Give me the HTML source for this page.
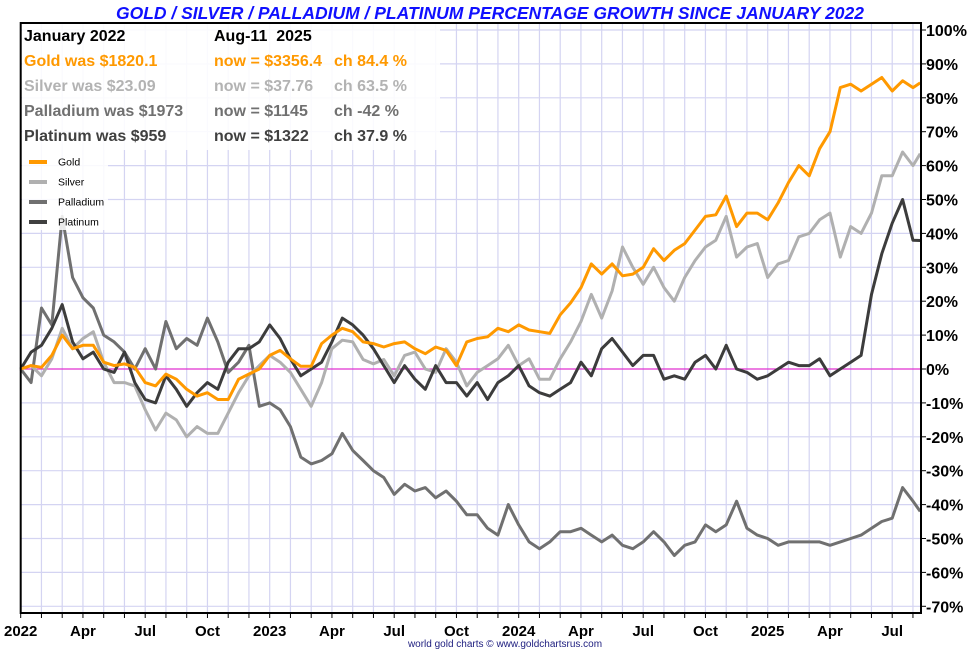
<!DOCTYPE html>
<html><head><meta charset="utf-8"><style>
body{margin:0;background:#fff;}
svg{display:block;font-family:"Liberation Sans",sans-serif;}
</style></head><body>
<svg id="chart" width="980" height="650" xmlns="http://www.w3.org/2000/svg">
<text x="490" y="19" text-anchor="middle" font-size="17.5" font-weight="bold" font-style="italic" fill="#1010ff">GOLD / SILVER / PALLADIUM / PLATINUM PERCENTAGE GROWTH SINCE JANUARY 2022</text>
<g id="grid"></g>
<g id="series"></g>
<g id="axes"></g>
<g>
<rect x="22" y="24" width="418" height="126" fill="#fff" fill-opacity="0.88"/>
<g font-size="16" font-weight="bold">
<text x="24" y="41" fill="#000">January 2022</text>
<text x="214" y="41" fill="#000">Aug-11&#160; 2025</text>
<text x="24" y="66" fill="#ff9900">Gold was $1820.1</text>
<text x="214" y="66" fill="#ff9900">now = $3356.4</text>
<text x="334" y="66" fill="#ff9900">ch 84.4 %</text>
<text x="24" y="91" fill="#b3b3b3">Silver was $23.09</text>
<text x="214" y="91" fill="#b3b3b3">now = $37.76</text>
<text x="334" y="91" fill="#b3b3b3">ch 63.5 %</text>
<text x="24" y="116" fill="#707070">Palladium was $1973</text>
<text x="214" y="116" fill="#707070">now = $1145</text>
<text x="334" y="116" fill="#707070">ch -42 %</text>
<text x="24" y="141" fill="#404040">Platinum was $959</text>
<text x="214" y="141" fill="#404040">now = $1322</text>
<text x="334" y="141" fill="#404040">ch 37.9 %</text>
</g></g>
<g>
<rect x="22" y="150" width="86" height="80" fill="#fff" fill-opacity="0.85"/>
<g font-size="10.5" fill="#000">
<line x1="29" y1="162" x2="47" y2="162" stroke="#ff9900" stroke-width="4"/><text x="58" y="165.5">Gold</text>
<line x1="29" y1="182" x2="47" y2="182" stroke="#b0b0b0" stroke-width="4"/><text x="58" y="185.5">Silver</text>
<line x1="29" y1="202" x2="47" y2="202" stroke="#707070" stroke-width="4"/><text x="58" y="205.5">Palladium</text>
<line x1="29" y1="222" x2="47" y2="222" stroke="#404040" stroke-width="4"/><text x="58" y="225.5">Platinum</text>
</g></g>
<text x="505" y="647" text-anchor="middle" font-size="10" fill="#202080">world gold charts © www.goldchartsrus.com</text>
</svg>
<script>
const gold=[0,1,0.5,4,10,6,7,7,2,1,1.5,0.5,-4,-5,-1.5,-3,-6,-8,-7,-9,-9,-3,-1.5,0,4,5.5,3,0.8,0.8,7.5,10,12,11,8,7.5,6.5,7.5,8,6,4.5,6.5,5.5,1,8,9,9.5,12,11,13,11.5,11,10.5,16,19.5,24,31,28,31,27.5,28,30,35.5,32,35,37,41,45,45.5,51,42,46,46,44,49,55,60,57,65,70,83,84,82,84,86,82,85,83,84.4];
const silver=[0,1,-2,3,12,6,9,11,2,-4,-4,-5,-12,-18,-13,-15,-20,-17,-19,-19,-13,-7,-2,1,4,2,-1,-6,-11,-4,6,8.5,8,2.8,1.5,2.8,-2,4,5,0,-1,6,2,-5,-1,1,3,7,1,3,-3,-3,3,8,14,22,15,23,36,30,25,30,24,20,27,32,36,38,45,33,36,37,27,31,32,39,40,44,46,33,42,40,46,57,57,64,60,63.5];
const palladium=[0,-4,18,13,45,27,21,18,10,8,5,0,6,0,14,6,9,7,15,8,-1,2,7,-11,-10,-12,-17,-26,-28,-27,-25,-19,-24,-27,-30,-32,-37,-34,-36,-35,-38,-36,-39,-43,-43,-47,-49,-40,-46,-51,-53,-51,-48,-48,-47,-49,-51,-49,-52,-53,-51,-48,-51,-55,-52,-51,-46,-48,-46,-39,-47,-49,-50,-52,-51,-51,-51,-51,-52,-51,-50,-49,-47,-45,-44,-35,-39,-42];
const platinum=[0,5,7,12,19,8,3,5,0,-1,5,-4,-9,-10,-2,-6,-11,-7,-4,-6,2,6,6,8,13,9,3,-2,0,2,8,15,13,10,6,1,-4,1,-3,-6,1,-4,-4,-8,-4,-9,-4,-2,1,-5,-7,-8,-6,-4,2,-2,6,9,5,1,4,4,-3,-2,-3,2,4,0,7,0,-1,-3,-2,0,2,1,1,3,-2,0,2,4,22,34,43,50,38,37.9];
const yTicks=[100,90,80,70,60,50,40,30,20,10,0,-10,-20,-30,-40,-50,-60,-70];
const xLabels=["2022","Apr","Jul","Oct","2023","Apr","Jul","Oct","2024","Apr","Jul","Oct","2025","Apr","Jul"];
const lastMonth=43.35;

const NS="http://www.w3.org/2000/svg";
const X0=20.7,MW=20.75,Y0=369,PP=3.39;
function xs(m){return X0+m*MW;}
function ys(p){return Y0-p*PP;}
function monthOf(i,n){return i===n-1?lastMonth:i*0.5;}
function mk(tag,attrs,parent){const e=document.createElementNS(NS,tag);for(const k in attrs)e.setAttribute(k,attrs[k]);parent.appendChild(e);return e;}
const grid=document.getElementById('grid'),axes=document.getElementById('axes'),ser=document.getElementById('series');
const plotTop=23,plotBot=613,plotRight=921;
for(let m=1;m<=43;m++){
  const l=mk('line',{x1:xs(m),x2:xs(m),y1:plotTop,y2:plotBot,stroke:'#d4d4f2','stroke-width':1.2},grid);
  
  
}
yTicks.forEach(v=>{
  const l=mk('line',{x1:X0,x2:plotRight,y1:ys(v),y2:ys(v),stroke:v===0?'#e030d0':'#d4d4f2','stroke-width':1.2},grid);
  
  
  const t=mk('text',{x:926,y:ys(v)+6,'font-size':16,'font-weight':'bold',fill:'#000'},axes);
  t.textContent=v+'%';
  
  
  mk('line',{x1:plotRight,x2:plotRight+5,y1:ys(v),y2:ys(v),stroke:'#000','stroke-width':1},axes);
});
const colors={gold:'#ff9900',silver:'#b0b0b0',palladium:'#707070',platinum:'#3c3c3c'};
[['palladium',palladium],['silver',silver],['platinum',platinum],['gold',gold]].forEach(([name,arr])=>{
  const pts=arr.map((v,i)=>xs(monthOf(i,arr.length)).toFixed(1)+','+ys(v).toFixed(1)).join(' ');
  const p=mk('polyline',{points:pts,fill:'none',stroke:colors[name],'stroke-width':3,'stroke-linejoin':'round'},ser);
  
  
});
mk('rect',{x:X0,y:plotTop,width:plotRight-X0,height:plotBot-plotTop,fill:'none',stroke:'#000','stroke-width':2},axes);
for(let m=0;m<=43;m++){mk('line',{x1:xs(m),x2:xs(m),y1:plotBot,y2:plotBot+5,stroke:'#000','stroke-width':1},axes);}
xLabels.forEach((s,i)=>{
  const t=mk('text',{x:xs(i*3),y:636,'text-anchor':'middle','font-size':15,'font-weight':'bold',fill:'#000'},axes);
  t.textContent=s;
  
  
});
</script>
</body></html>
